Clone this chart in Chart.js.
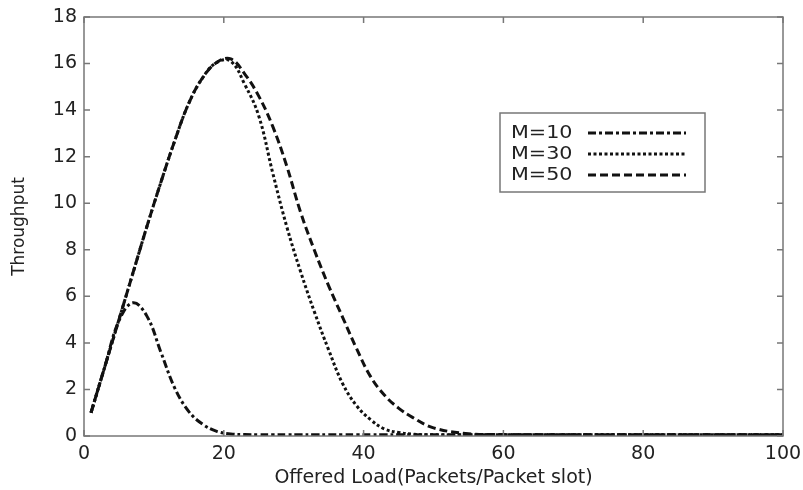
<!DOCTYPE html>
<html>
<head>
<meta charset="utf-8">
<script src="https://cdn.jsdelivr.net/npm/chart.js@4.4.1/dist/chart.umd.min.js"></script>
<style>
  html, body { margin: 0; padding: 0; background: #fff; }
  #wrap { width: 803px; height: 490px; }
</style>
</head>
<body>
<div id="wrap"><canvas id="c" width="803" height="490"></canvas></div>
<script>
'use strict';

// offered load (x) shared by all three curves
const loadX = [1, 3, 5, 7, 9, 11, 13, 15, 17, 19, 21, 23, 25, 27, 29, 31, 33, 35, 37, 39,
  41, 43, 45, 47, 50, 55, 60, 70, 80, 90, 100];

const m10 = [1.0, 3.0, 4.95, 5.72, 5.15, 3.6, 2.05, 1.05, 0.5, 0.2, 0.09, 0.06, 0.05, 0.05, 0.05, 0.05, 0.05, 0.05, 0.05, 0.05,
  0.05, 0.05, 0.05, 0.05, 0.05, 0.05, 0.05, 0.05, 0.05, 0.05, 0.05];
const m30 = [1.0, 3.0, 5.0, 7.0, 9.0, 10.9, 12.7, 14.3, 15.4, 16.05, 16.1, 15.1, 13.75, 11.3, 9.0, 7.05, 5.3, 3.7, 2.25, 1.3,
  0.7, 0.3, 0.15, 0.08, 0.05, 0.05, 0.05, 0.05, 0.05, 0.05, 0.05];
const m50 = [1.0, 3.0, 5.0, 7.0, 9.0, 10.9, 12.7, 14.3, 15.4, 16.05, 16.2, 15.55, 14.6, 13.3, 11.6, 9.6, 7.95, 6.45, 5.1, 3.75,
  2.55, 1.75, 1.2, 0.8, 0.35, 0.1, 0.06, 0.05, 0.05, 0.05, 0.05];

const seriesNames = ['M=10', 'M=30', 'M=50'];
const seriesDash = [[8, 3, 3, 3], [3, 2.5], [8, 4]];

const xTicks = [0, 20, 40, 60, 80, 100];
const yTicks = [0, 2, 4, 6, 8, 10, 12, 14, 16, 18];

const FONT = '"DejaVu Sans", Arial, sans-serif';

function toPoints(ys) {
  return loadX.map((x, i) => ({ x: x, y: ys[i] }));
}

function makeSet(i, ys) {
  return {
    label: seriesNames[i],
    data: toPoints(ys),
    borderColor: '#111',
    borderWidth: 3,
    borderDash: seriesDash[i],
    pointRadius: 0,
    fill: false,
    tension: 0.4
  };
}

/* box on top/right and inward ticks, matlab style */
const boxTicks = {
  id: 'boxTicks',
  afterDatasetsDraw(chart) {
    const { ctx, chartArea: a, scales } = chart;
    ctx.save();
    ctx.strokeStyle = '#777';
    ctx.lineWidth = 1.5;
    ctx.strokeRect(a.left, a.top, a.right - a.left, a.bottom - a.top);
    ctx.beginPath();
    xTicks.forEach(v => {
      const px = scales.x.getPixelForValue(v);
      ctx.moveTo(px, a.bottom); ctx.lineTo(px, a.bottom - 6);
      ctx.moveTo(px, a.top); ctx.lineTo(px, a.top + 6);
    });
    yTicks.forEach(v => {
      const py = scales.y.getPixelForValue(v);
      ctx.moveTo(a.left, py); ctx.lineTo(a.left + 6, py);
      ctx.moveTo(a.right, py); ctx.lineTo(a.right - 6, py);
    });
    ctx.stroke();
    ctx.restore();
  }
};

/* legend drawn inside the plot like the original */
const innerLegend = {
  id: 'innerLegend',
  afterDraw(chart) {
    const { ctx } = chart;
    const box = { x: 500, y: 113, w: 205, h: 79 };
    const rows = [133, 154, 175];
    ctx.save();
    ctx.fillStyle = '#fff';
    ctx.fillRect(box.x, box.y, box.w, box.h);
    ctx.strokeStyle = '#777';
    ctx.lineWidth = 1.5;
    ctx.strokeRect(box.x, box.y, box.w, box.h);
    chart.data.datasets.forEach((ds, i) => {
      const y = rows[i];
      ctx.save();
      ctx.translate(511, y);
      ctx.scale(1.15, 1);
      ctx.fillStyle = '#222';
      ctx.font = '18px ' + FONT;
      ctx.textBaseline = 'middle';
      ctx.fillText(ds.label, 0, 0);
      ctx.restore();
      ctx.beginPath();
      ctx.setLineDash(ds.borderDash);
      ctx.strokeStyle = ds.borderColor;
      ctx.lineWidth = 3;
      ctx.moveTo(588, y);
      ctx.lineTo(686, y);
      ctx.stroke();
    });
    ctx.restore();
  }
};

new Chart(document.getElementById('c'), {
  type: 'line',
  data: {
    datasets: [makeSet(0, m10), makeSet(1, m30), makeSet(2, m50)]
  },
  options: {
    responsive: false,
    animation: false,
    layout: { padding: { top: 17, right: 20, left: 0, bottom: 0 } },
    plugins: {
      legend: { display: false },
      tooltip: { enabled: false }
    },
    scales: {
      x: {
        type: 'linear',
        min: 0,
        max: 100,
        afterBuildTicks(scale) { scale.ticks = xTicks.map(v => ({ value: v })); },
        afterFit(scale) {
          scale.height = 54;
          scale.paddingLeft = 0;
          scale.paddingRight = 0;
        },
        grid: { display: false, drawTicks: false },
        border: { display: false },
        ticks: { color: '#222', font: { family: FONT, size: 19 }, padding: 7, maxRotation: 0 },
        title: {
          display: true,
          text: 'Offered Load(Packets/Packet slot)',
          color: '#222',
          font: { family: FONT, size: 19 },
          padding: { top: 0, bottom: 1 }
        }
      },
      y: {
        min: 0,
        max: 18,
        afterBuildTicks(scale) { scale.ticks = yTicks.map(v => ({ value: v })); },
        afterFit(scale) {
          scale.width = 84;
          scale.paddingTop = 0;
          scale.paddingBottom = 0;
        },
        grid: { display: false, drawTicks: false },
        border: { display: false },
        ticks: { color: '#222', font: { family: FONT, size: 19 }, padding: 7 },
        title: {
          display: true,
          text: 'Throughput',
          color: '#222',
          font: { family: FONT, size: 17 },
          padding: { top: 9, bottom: 0 }
        }
      }
    }
  },
  plugins: [boxTicks, innerLegend]
});
</script>
</body>
</html>
